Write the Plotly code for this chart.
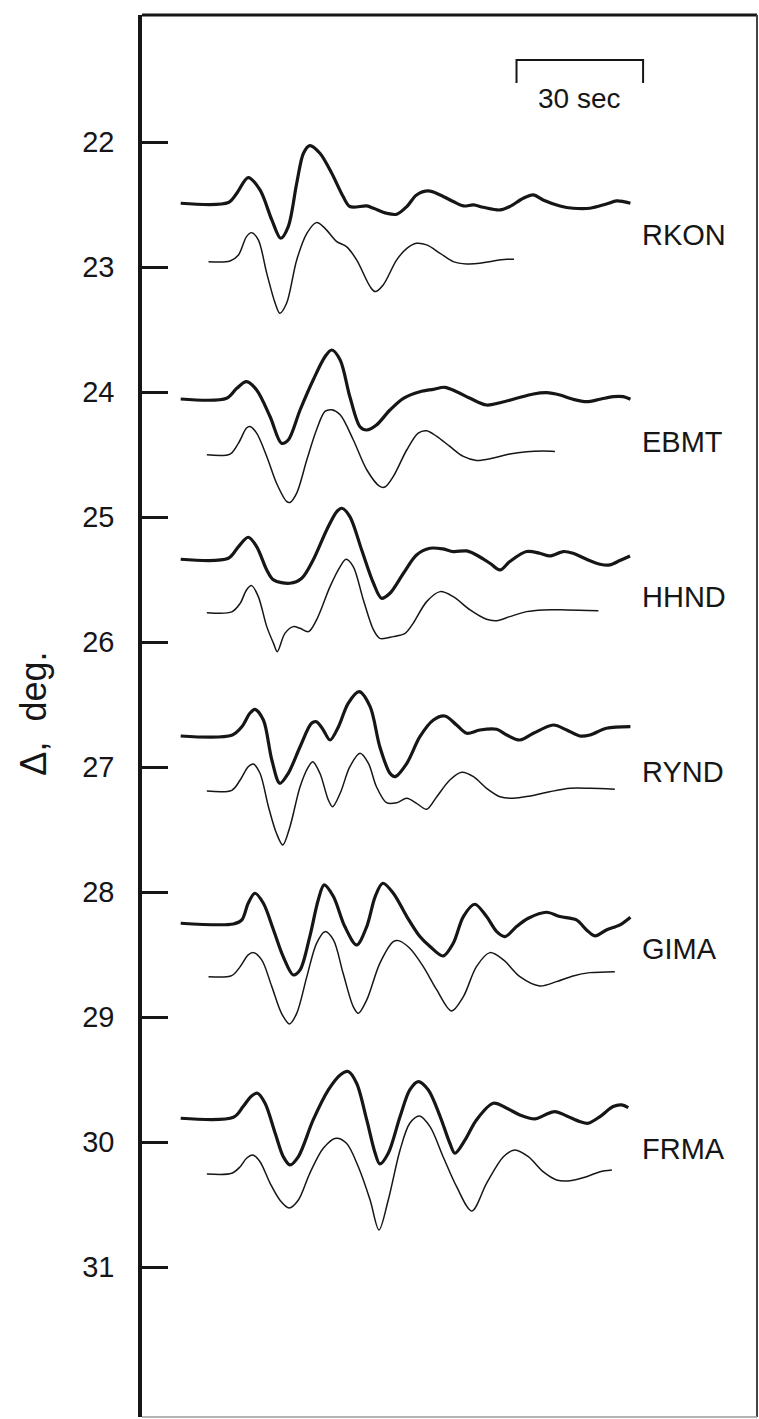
import plotly.graph_objects as go

# ---------------- data ----------------
STATIONS = ["RKON", "EBMT", "HHND", "RYND", "GIMA", "FRMA"]
OBS_BASE = [22.488, 24.054, 25.336, 26.750, 28.248, 29.808]   # observed (thick) baselines, deg
SYN_BASE = [22.955, 24.500, 25.763, 27.190, 28.675, 30.254]   # synthetic (thin) baselines, deg
LABEL_Y = [22.74, 24.40, 25.64, 27.04, 28.45, 30.05]          # station label positions, deg

Y_TICKS = [22, 23, 24, 25, 26, 27, 28, 29, 30, 31]
Y_TICK_TEXT = ["22", "23", "24", "25", "26", "27", "28", "29", "30", "31"]

SCALE_BAR_SEC = 30
SCALE_BAR_START = 79.6

# time (s) and relative amplitude (arbitrary units, positive up)
RKON_OBS_T = [0, 11.3, 13.3, 16.0, 18.8, 21.6, 23.7, 25.5, 27.5, 29.1, 30.6, 33.0, 35.8, 38.5, 40.1, 44.1, 45.7, 48.8, 51.2, 53.6, 55.9, 58.7, 61.5, 64.6, 67.0, 69.4, 71.7, 75.7, 78.0, 81.2, 83.6, 85.9, 89.9, 93.0, 97.0, 100.9, 103.3, 104.9, 106.6]
RKON_OBS_A = [0, 0.07, 1.0, 2.57, 1.33, -1.67, -3.5, -2.33, 2.0, 5.0, 5.77, 5.0, 3.0, 0.67, -0.33, -0.27, -0.5, -1.0, -1.1, -0.33, 0.83, 1.23, 0.83, 0.17, -0.27, -0.17, -0.4, -0.67, -0.33, 0.5, 0.83, 0.33, -0.27, -0.5, -0.5, -0.07, 0.23, 0.17, 0]
RKON_SYN_T = [6.6, 11.7, 13.7, 15.6, 16.8, 18.4, 20.4, 22.4, 23.5, 25.1, 27.5, 29.9, 32.2, 34.2, 37.0, 39.3, 41.7, 44.9, 46.1, 48.0, 51.2, 53.6, 55.9, 58.3, 61.5, 64.6, 67.8, 70.9, 74.1, 77.3, 79.0]
RKON_SYN_A = [0, 0.07, 0.67, 2.5, 2.9, 2.17, -1.17, -4.17, -5.17, -4.17, 0.17, 2.83, 3.9, 3.33, 2.0, 1.5, 0.17, -2.5, -3.0, -2.33, 0.17, 1.33, 1.83, 1.67, 0.83, 0, -0.23, -0.17, 0.07, 0.23, 0.23]

EBMT_OBS_T = [0, 10.9, 13.3, 15.6, 18.0, 21.2, 23.9, 25.5, 28.3, 31.4, 34.2, 35.8, 37.8, 40.1, 42.5, 44.1, 46.4, 49.6, 52.8, 56.7, 59.9, 62.6, 65.4, 68.6, 72.5, 75.7, 79.6, 83.6, 86.7, 89.9, 93.0, 96.2, 99.4, 102.5, 104.9, 106.6]
EBMT_OBS_A = [0, 0.07, 1.07, 1.73, 0.9, -1.77, -4.43, -4.1, -1.1, 1.9, 4.23, 4.9, 3.9, 0.23, -2.77, -3.1, -2.6, -1.1, 0.07, 0.73, 0.97, 1.17, 0.73, 0.07, -0.6, -0.37, 0.07, 0.5, 0.63, 0.4, -0.03, -0.27, -0.03, 0.23, 0.23, -0.03]
EBMT_SYN_T = [6.2, 11.7, 13.7, 15.6, 16.4, 18.0, 20.4, 22.7, 25.1, 25.9, 27.5, 29.9, 32.2, 34.2, 35.8, 37.8, 40.9, 44.1, 47.2, 48.4, 50.4, 53.6, 56.3, 58.3, 60.7, 63.8, 67.0, 70.1, 74.1, 78.0, 82.0, 85.9, 88.7]
EBMT_SYN_A = [0, 0.07, 1.17, 2.67, 2.83, 2.17, -0.17, -2.83, -4.67, -4.77, -3.83, -0.5, 2.5, 4.33, 4.5, 4.0, 1.5, -1.5, -3.17, -3.23, -2.17, 0.5, 2.17, 2.4, 1.83, 0.83, -0.17, -0.57, -0.33, 0.07, 0.3, 0.37, 0.33]

HHND_OBS_T = [0, 11.3, 13.7, 16.0, 18.0, 20.4, 22.0, 25.9, 28.7, 31.4, 34.6, 37.0, 38.2, 40.1, 42.9, 45.7, 47.6, 49.6, 52.8, 55.9, 59.1, 62.2, 64.6, 67.8, 70.1, 73.3, 75.7, 78.0, 82.0, 85.1, 87.5, 90.7, 93.0, 96.2, 99.4, 101.7, 104.1, 106.5]
HHND_OBS_A = [0, 0.1, 1.27, 2.2, 1.27, -1.07, -2.07, -2.4, -1.9, -0.07, 2.93, 4.77, 5.1, 4.27, 0.93, -2.4, -3.9, -3.4, -1.4, 0.43, 1.1, 1.03, 0.77, 0.83, 0.43, -0.4, -1.07, -0.23, 0.77, 0.6, 0.33, 0.77, 0.6, 0, -0.5, -0.57, -0.13, 0.33]
HHND_SYN_T = [6.2, 12.1, 14.1, 15.6, 16.8, 18.4, 20.4, 22.0, 22.9, 24.7, 26.7, 28.3, 30.3, 32.2, 35.4, 37.8, 39.2, 40.9, 43.3, 45.7, 47.2, 50.4, 53.2, 55.1, 58.3, 61.5, 64.6, 68.6, 72.5, 74.9, 78.0, 82.0, 85.9, 91.5, 99.0]
HHND_SYN_A = [0, 0.07, 0.93, 2.27, 2.7, 1.6, -1.4, -3.07, -3.9, -2.07, -1.4, -1.57, -1.9, -0.73, 2.6, 4.6, 5.33, 4.6, 1.27, -1.73, -2.57, -2.4, -2.07, -1.07, 1.1, 2.1, 1.6, 0.27, -0.67, -0.8, -0.4, 0.1, 0.27, 0.27, 0.2]

RYND_OBS_T = [0, 12.1, 14.5, 16.4, 17.6, 19.6, 21.6, 23.5, 25.5, 28.3, 31.0, 32.2, 33.8, 35.4, 37.4, 39.7, 42.3, 44.9, 47.2, 49.6, 50.8, 53.6, 56.7, 59.9, 62.6, 65.4, 67.8, 70.9, 74.9, 77.3, 80.4, 83.6, 88.3, 91.5, 94.6, 97.0, 100.9, 106.6]
RYND_OBS_A = [0, 0.07, 0.93, 2.27, 2.67, 1.6, -2.4, -4.73, -3.73, -1.07, 1.27, 1.43, 0.6, -0.4, 0.93, 3.27, 4.43, 2.93, -1.07, -3.73, -4.07, -2.73, -0.07, 1.6, 2.0, 1.1, 0.27, 0.6, 0.67, 0.1, -0.4, 0.27, 1.1, 0.6, 0, 0.1, 0.77, 0.93]
RYND_SYN_T = [6.2, 12.1, 14.1, 16.0, 17.2, 18.8, 20.8, 22.7, 24.2, 25.9, 28.3, 30.3, 31.3, 33.0, 35.0, 36.0, 37.8, 40.1, 42.5, 44.5, 46.4, 48.8, 51.2, 53.6, 55.9, 58.3, 60.7, 63.8, 66.6, 69.4, 72.5, 75.7, 78.8, 82.8, 87.5, 92.3, 97.0, 102.9]
RYND_SYN_A = [0, 0.07, 1.1, 2.43, 2.7, 1.77, -1.57, -4.23, -5.4, -3.57, 0.43, 2.43, 2.93, 1.77, -0.9, -1.57, -0.23, 2.43, 3.77, 2.77, 0.43, -1.17, -1.17, -0.73, -1.23, -1.83, -0.57, 1.1, 1.87, 1.43, 0.27, -0.57, -0.73, -0.5, -0.07, 0.27, 0.27, 0.17]

GIMA_OBS_T = [0, 12.5, 14.5, 16.0, 17.6, 19.6, 22.0, 24.3, 26.7, 28.3, 30.6, 32.6, 34.0, 36.2, 38.9, 41.7, 44.1, 46.1, 47.9, 50.4, 53.6, 56.7, 59.1, 62.2, 64.6, 67.0, 69.7, 72.5, 74.9, 76.9, 79.6, 82.4, 86.7, 89.9, 93.8, 96.2, 98.2, 100.9, 104.1, 106.6]
GIMA_OBS_A = [0, -0.07, 0.33, 2.0, 3.0, 2.0, -0.67, -3.33, -5.17, -4.67, -1.33, 2.33, 3.83, 2.67, -0.33, -2.17, -0.33, 2.67, 4.0, 3.0, 0.67, -1.33, -2.33, -3.27, -2.0, 0.67, 1.9, 0.67, -0.83, -1.33, -0.33, 0.5, 1.1, 0.67, 0.33, -0.67, -1.27, -0.67, -0.17, 0.6]
GIMA_SYN_T = [6.6, 12.1, 14.1, 16.0, 17.2, 19.2, 21.6, 23.9, 25.8, 27.5, 29.9, 32.2, 34.2, 36.2, 38.5, 40.9, 42.1, 44.1, 47.2, 50.4, 51.6, 54.3, 57.5, 60.7, 64.2, 67.0, 70.1, 73.3, 76.5, 80.4, 85.1, 89.1, 93.0, 97.0, 102.9]
GIMA_SYN_A = [0, 0.1, 1.0, 2.17, 2.4, 1.67, -1.0, -3.67, -4.73, -3.67, 0, 3.33, 4.5, 3.67, 0.33, -3.0, -3.67, -2.33, 1.33, 3.5, 3.6, 2.83, 1.0, -1.33, -3.43, -2.0, 1.0, 2.4, 1.67, 0, -0.93, -0.5, 0.07, 0.4, 0.5]

FRMA_OBS_T = [0, 12.5, 14.8, 16.8, 18.2, 20.0, 22.4, 24.3, 25.9, 27.9, 31.4, 35.0, 37.8, 39.7, 41.7, 44.1, 46.1, 47.2, 49.2, 52.0, 54.3, 56.3, 58.7, 61.5, 63.8, 65.0, 67.4, 70.1, 74.1, 77.3, 80.4, 84.0, 86.3, 88.7, 91.5, 94.6, 96.6, 99.4, 102.5, 104.5, 106.1]
FRMA_OBS_A = [0, 0.1, 1.17, 2.23, 2.5, 1.5, -1.5, -3.83, -4.67, -3.83, -0.17, 2.83, 4.33, 4.67, 3.5, -0.17, -3.5, -4.57, -3.5, 0.17, 2.83, 3.67, 2.83, 0.17, -2.5, -3.5, -2.17, -0.17, 1.5, 1.0, 0.33, -0.07, 0.33, 0.67, 0.23, -0.33, -0.5, 0.17, 1.17, 1.33, 1.07]
FRMA_SYN_T = [6.2, 12.1, 14.1, 15.6, 17.1, 18.8, 21.2, 23.5, 25.7, 27.9, 30.6, 33.8, 36.8, 39.3, 42.1, 44.9, 47.0, 49.2, 52.0, 54.3, 56.6, 59.1, 62.2, 65.4, 69.0, 72.5, 76.5, 79.2, 82.4, 85.9, 89.1, 92.3, 96.2, 99.4, 102.2]
FRMA_SYN_A = [0, 0.07, 0.73, 1.57, 1.9, 1.23, -0.93, -2.6, -3.4, -2.6, 0.07, 2.57, 3.57, 3.07, 0.73, -2.6, -5.6, -2.6, 2.4, 5.07, 5.8, 4.73, 1.73, -1.27, -3.7, -0.93, 1.73, 2.4, 1.73, 0.23, -0.6, -0.67, -0.27, 0.23, 0.4]

OBS_T = [RKON_OBS_T, EBMT_OBS_T, HHND_OBS_T, RYND_OBS_T, GIMA_OBS_T, FRMA_OBS_T]
OBS_A = [RKON_OBS_A, EBMT_OBS_A, HHND_OBS_A, RYND_OBS_A, GIMA_OBS_A, FRMA_OBS_A]
SYN_T = [RKON_SYN_T, EBMT_SYN_T, HHND_SYN_T, RYND_SYN_T, GIMA_SYN_T, FRMA_SYN_T]
SYN_A = [RKON_SYN_A, EBMT_SYN_A, HHND_SYN_A, RYND_SYN_A, GIMA_SYN_A, FRMA_SYN_A]

# ---------------- styling ----------------
AMP_TO_DEG = 0.08          # one amplitude unit in degrees of the distance axis
INK = "#161616"
FONT = "Liberation Sans, Arial, sans-serif"
X_RANGE = [-9.17, 136.6]
Y_RANGE = [32.198, 20.982]  # reversed: distance grows downward

fig = go.Figure()

for i, name in enumerate(STATIONS):
    assert len(OBS_T[i]) == len(OBS_A[i]), name
    assert len(SYN_T[i]) == len(SYN_A[i]), name
    fig.add_trace(go.Scatter(
        x=OBS_T[i], y=[OBS_BASE[i] - a * AMP_TO_DEG for a in OBS_A[i]],
        mode="lines", name=name + " observed",
        line=dict(color=INK, width=3.2, shape="spline", smoothing=0.9),
        hoverinfo="skip", showlegend=False))
    fig.add_trace(go.Scatter(
        x=SYN_T[i], y=[SYN_BASE[i] - a * AMP_TO_DEG for a in SYN_A[i]],
        mode="lines", name=name + " synthetic",
        line=dict(color=INK, width=1.5, shape="spline", smoothing=0.9),
        hoverinfo="skip", showlegend=False))
    fig.add_annotation(x=108.8, y=LABEL_Y[i], xref="x", yref="y", text=name,
                       showarrow=False, xanchor="left", yanchor="middle",
                       font=dict(family=FONT, size=29, color=INK))

# 30-second scale bar
bar_top, bar_bot = 21.342, 21.526
fig.add_trace(go.Scatter(
    x=[SCALE_BAR_START, SCALE_BAR_START, SCALE_BAR_START + SCALE_BAR_SEC, SCALE_BAR_START + SCALE_BAR_SEC],
    y=[bar_bot, bar_top, bar_top, bar_bot], mode="lines",
    line=dict(color=INK, width=2), hoverinfo="skip", showlegend=False))
fig.add_annotation(x=SCALE_BAR_START + SCALE_BAR_SEC / 2, y=21.646, xref="x", yref="y",
                   text=f"{SCALE_BAR_SEC} sec", showarrow=False,
                   xanchor="center", yanchor="middle",
                   font=dict(family=FONT, size=28, color=INK))

# axis title
fig.add_annotation(x=-0.177, y=26.57, xref="paper", yref="y", text="Δ,  deg.",
                   textangle=-90, showarrow=False, xanchor="center", yanchor="middle",
                   font=dict(family=FONT, size=36, color=INK))

# frame: heavy top edge, lighter right edge, faint bottom edge
fig.add_shape(type="line", xref="paper", yref="paper", x0=0, x1=1, y0=1, y1=1,
              line=dict(color=INK, width=3))
fig.add_shape(type="line", xref="paper", yref="paper", x0=1, x1=1, y0=0, y1=1,
              line=dict(color="#444444", width=2))
fig.add_shape(type="line", xref="paper", yref="paper", x0=0, x1=1, y0=0, y1=0,
              line=dict(color="#9a9a9a", width=1.5))

fig.update_xaxes(range=X_RANGE, showgrid=False, zeroline=False, showticklabels=False,
                 ticks="", showline=False)
fig.update_yaxes(range=Y_RANGE, showgrid=False, zeroline=False,
                 tickmode="array", tickvals=Y_TICKS, ticktext=Y_TICK_TEXT,
                 ticks="inside", ticklen=26, tickwidth=2.5, tickcolor=INK,
                 ticklabelstandoff=18,
                 tickfont=dict(family=FONT, size=29, color=INK),
                 showline=True, mirror=False, linecolor=INK, linewidth=3.5)

fig.update_layout(width=759, height=1419, autosize=False,
                  margin=dict(l=142, r=2, t=15, b=2, pad=0),
                  paper_bgcolor="white", plot_bgcolor="white")

fig.write_html("out.html")
